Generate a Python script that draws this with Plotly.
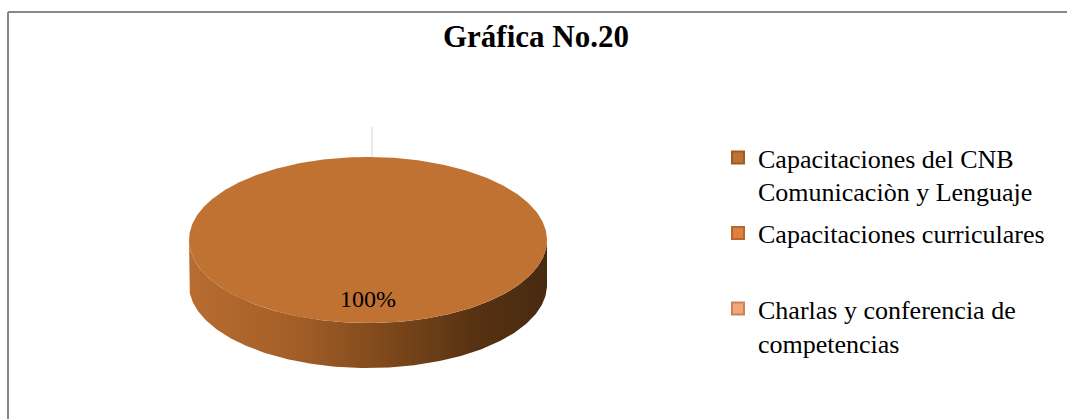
import numpy as np
import plotly.graph_objects as go

# ---- data ----
categories = [
    "Capacitaciones del CNB<br>Comunicaciòn y Lenguaje",
    "Capacitaciones curriculares<br>&nbsp;",
    "Charlas y conferencia de<br>competencias",
]
values = [100, 0, 0]
title_text = "<b>Gráfica No.20</b>"

# ---- styles ----
top_colors = ["#C07232", "#E0803C", "#F2A679"]
edge_colors = ["#9C5A26", "#B8662D", "#C98458"]
side_scales = [
    [[0, "#B86C30"], [0.3, "#A35E27"], [0.55, "#7E481B"], [0.8, "#573212"], [1, "#482A10"]],
    [[0, "#E0803C"], [1, "#7A4519"]],
    [[0, "#F2A679"], [1, "#9A6A4A"]],
]
FONT = "Liberation Serif"

# geometry of the 3D pie (pixel space of the plot area)
cx, cy, rx, ry, depth = 368, 240, 179, 83, 45


def pt(phi_deg, r=1.0, dy=0.0):
    p = np.radians(phi_deg)
    return cx + r * rx * np.sin(p), cy - r * ry * np.cos(p) + dy


fig = go.Figure()

total = float(sum(values))
fracs = [v / total for v in values]
starts = np.concatenate([[0], np.cumsum(fracs)[:-1]]) * 360
ends = np.cumsum(fracs) * 360

# side walls (front half: phi in [90, 270])
for i, (s, e) in enumerate(zip(starts, ends)):
    lo, hi = max(s, 90), min(e, 270)
    if hi <= lo:
        continue
    ph = np.linspace(lo, hi, 200)
    xt, yt = pt(ph)
    xb, yb = pt(ph[::-1], dy=depth)
    fig.add_trace(go.Scatter(
        x=np.concatenate([xt, xb]), y=np.concatenate([yt, yb]),
        fill="toself", mode="lines", line=dict(width=0),
        fillgradient=dict(type="horizontal", colorscale=side_scales[i]),
        showlegend=False, hoverinfo="skip", legendgroup=str(i)))

# top faces
for i, (s, e) in enumerate(zip(starts, ends)):
    if e - s <= 0:
        continue
    ph = np.linspace(s, e, 400)
    xa, ya = pt(ph)
    if e - s >= 359.999:
        xs, ys = xa, ya
    else:
        xs = np.concatenate([[cx], xa, [cx]])
        ys = np.concatenate([[cy], ya, [cy]])
    fig.add_trace(go.Scatter(
        x=xs, y=ys, fill="toself", mode="lines", line=dict(width=0),
        fillcolor=top_colors[i], showlegend=False, hoverinfo="skip",
        legendgroup=str(i)))

# leader line for zero-valued slices (placed at their angle)
for i, (s, e) in enumerate(zip(starts, ends)):
    if values[i] == 0:
        x0, y0 = pt(s)
        fig.add_trace(go.Scatter(x=[x0 + 4, x0 + 4], y=[y0, y0 - 30], mode="lines",
                                 line=dict(color="#E4E4E4", width=1.5),
                                 showlegend=False, hoverinfo="skip"))
        break

# data labels
for i, (s, e) in enumerate(zip(starts, ends)):
    if values[i] <= 0:
        continue
    lx, ly = pt((s + e) / 2, r=0.74)
    fig.add_trace(go.Scatter(x=[lx], y=[ly], mode="text",
                             text=[f"{round(fracs[i] * 100)}%"],
                             textfont=dict(family=FONT, size=24, color="black"),
                             showlegend=False, hoverinfo="skip"))

# legend entries
for i, name in enumerate(categories):
    fig.add_trace(go.Scatter(
        x=[None], y=[None], mode="markers", name=name, legendgroup=str(i),
        marker=dict(symbol="square", size=12, color=top_colors[i],
                    line=dict(color=edge_colors[i], width=1))))

# chart-area border (top and left edges are the only ones inside the frame)
border = dict(color="#878787", width=2)
fig.add_shape(type="line", xref="paper", yref="paper",
              x0=8 / 1067, x1=1.0, y0=1 - 12 / 419, y1=1 - 12 / 419, line=border)
fig.add_shape(type="line", xref="paper", yref="paper",
              x0=8 / 1067, x1=8 / 1067, y0=0.0, y1=1 - 12 / 419, line=border)

fig.add_annotation(text=title_text, xref="paper", yref="paper",
                   x=536 / 1067, y=1 - 36 / 419, showarrow=False,
                   xanchor="center", yanchor="middle",
                   font=dict(family=FONT, size=31, color="black"))

fig.update_layout(
    width=1067, height=419,
    margin=dict(l=0, r=0, t=0, b=0),
    paper_bgcolor="white", plot_bgcolor="white",
    xaxis=dict(range=[0, 1067], visible=False, fixedrange=True),
    yaxis=dict(range=[419, 0], visible=False, fixedrange=True),
    showlegend=True,
    legend=dict(x=718 / 1067, y=1 - 134 / 419, xanchor="left", yanchor="top",
                traceorder="grouped", tracegroupgap=5, valign="top",
                font=dict(family=FONT, size=26, color="black"),
                bgcolor="rgba(0,0,0,0)", borderwidth=0, itemsizing="constant"),
)

fig.write_html("out.html", config={"displayModeBar": False},
               post_script="document.body.style.margin='0';document.body.style.overflow='hidden';")
